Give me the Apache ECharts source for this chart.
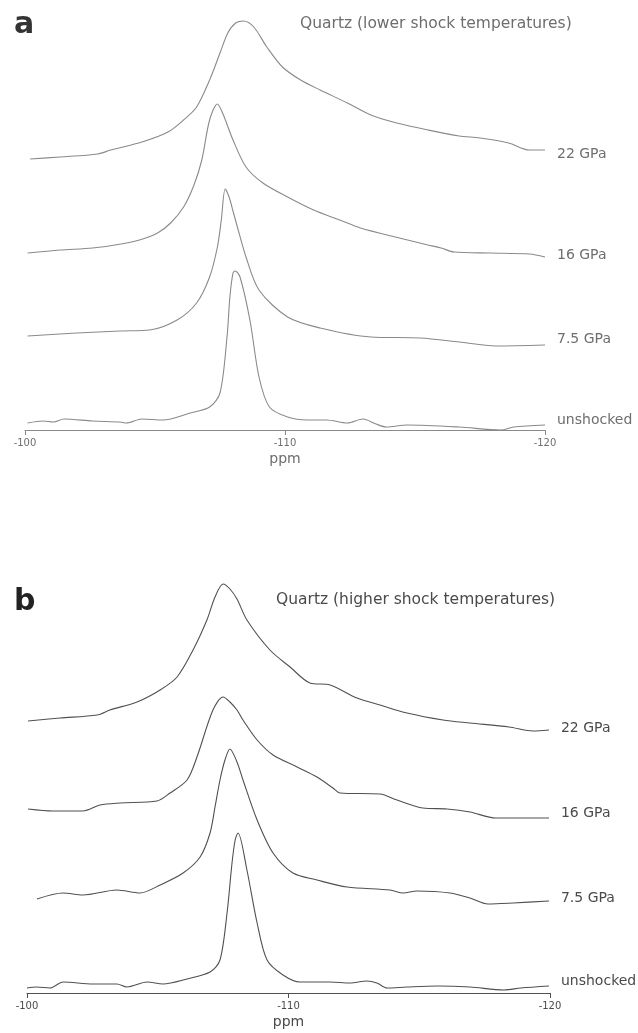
<!DOCTYPE html>
<html>
<head>
<meta charset="utf-8">
<script src="https://cdn.jsdelivr.net/npm/echarts@6/dist/echarts.min.js"></script>
<style>
html,body{margin:0;padding:0;background:#fff;}
#chart{width:638px;height:1033px;}
</style>
</head>
<body>
<div id="chart"></div>
<script>
// ---- DATA (ppm, relative intensity as stacked in the figure) ----
var seriesNames = ["22 GPa", "16 GPa", "7.5 GPa", "unshocked"];
var axisTicks = [-100, -110, -120];

// Panel a: lower shock temperatures
var a22_ppm = [-100.2,-101.35,-102.8,-103.3,-104.5,-105.5,-106.1,-106.6,-107.1,-107.5,-107.8,-108.1,-108.4,-108.8,-109.3,-109.9,-110.6,-111.35,-112.4,-113.3,-114.3,-115.5,-116.7,-117.5,-118.6,-119.4,-120];
var a22_val = [271,273,276,280,288,298,310,323,350,377,397,407,409,403,383,363,350,340,327,315,307,300,294,292,287,280,280];

var a16_ppm = [-100.1,-101.35,-102.6,-103.7,-104.4,-105.1,-105.6,-106.1,-106.5,-106.8,-107.1,-107.4,-107.6,-108.0,-108.5,-109.15,-110.1,-111.1,-112.1,-112.9,-114.4,-115.5,-116.0,-116.5,-117.9,-119.4,-120];
var a16_val = [177,180,182,186,190,197,207,223,245,270,310,326,317,290,263,247,233,220,210,202,192,185,182,178,177,176,173];

var a75_ppm = [-100.1,-102.0,-103.65,-104.8,-105.85,-106.6,-107.1,-107.4,-107.55,-107.7,-107.85,-108.0,-108.2,-108.5,-109.0,-110.1,-111.35,-113.3,-115.2,-116.7,-118.1,-120];
var a75_val = [94,97,99,100,110,127,153,183,210,241,233,219,200,173,140,113,102,93,92,88,84,85];

var a0_ppm = [-100.1,-100.7,-101.1,-101.5,-102.6,-103.65,-103.9,-104.5,-105.3,-106.35,-107.1,-107.5,-107.77,-107.88,-108.0,-108.08,-108.27,-108.65,-109.0,-109.4,-110.1,-110.85,-111.6,-112.4,-113.0,-113.5,-113.9,-114.7,-116.7,-118.3,-118.8,-120];
var a0_val = [7,9,8,11,9,8,7,11,10,17,23,37,93,133,157,159,153,110,53,23,13,10,10,7,11,6,3,5,3,0,3,5];

// Panel b: higher shock temperatures
var b22_ppm = [-100.04,-101.26,-102.68,-103.17,-104.21,-105.09,-105.74,-106.35,-106.88,-107.19,-107.5,-107.76,-108.03,-108.41,-109.29,-110.06,-110.82,-111.59,-112.62,-113.5,-114.53,-115.91,-116.94,-118.43,-119.35,-119.96];
var b22_val = [272,275,278,283,291,303,316,343,373,396,409,404,394,373,343,326,310,308,295,288,280,273,270,266,262,263];

var b16_ppm = [-100.04,-100.99,-102.14,-102.79,-103.56,-104.97,-105.47,-106.12,-106.5,-107.11,-107.5,-107.76,-108.03,-108.26,-108.8,-109.41,-110.33,-111.09,-111.7,-111.97,-113.5,-114.15,-115.14,-116.06,-116.94,-117.93,-119.96];
var b16_val = [184,182,182,188,190,192,200,213,236,283,296,291,283,273,253,238,226,216,205,200,199,193,185,184,181,175,175];

var b75_ppm = [-100.38,-101.38,-102.14,-103.44,-104.32,-105.09,-105.97,-106.62,-107.0,-107.19,-107.38,-107.57,-107.76,-108.03,-108.26,-108.8,-109.41,-110.17,-111.09,-112.24,-113.88,-114.38,-114.91,-116.18,-116.94,-117.63,-118.59,-119.96];
var b75_val = [94,100,98,103,100,108,120,136,160,186,213,233,244,231,213,173,140,120,113,106,103,100,102,100,95,89,90,92];

var b0_ppm = [-100.0,-100.38,-100.88,-101.38,-102.52,-103.44,-103.82,-104.59,-105.2,-106.12,-107.0,-107.38,-107.65,-107.84,-107.96,-108.07,-108.41,-108.8,-109.18,-109.79,-110.44,-111.59,-112.35,-113.0,-113.38,-113.77,-114.53,-115.68,-116.94,-118.24,-118.89,-119.96];
var b0_val = [5,6,5,11,9,9,6,11,9,14,21,33,80,130,153,160,123,70,33,18,11,11,10,12,10,5,6,7,6,3,5,7];

// ---- BUILD ----
function pairs(x, y) { return x.map(function (v, i) { return [v, y[i]]; }); }

var panelA = [pairs(a22_ppm, a22_val), pairs(a16_ppm, a16_val), pairs(a75_ppm, a75_val), pairs(a0_ppm, a0_val)];
var panelB = [pairs(b22_ppm, b22_val), pairs(b16_ppm, b16_val), pairs(b75_ppm, b75_val), pairs(b0_ppm, b0_val)];

var FONT = "DejaVu Sans";
var colA = "#8a8a8a", txtA = "#6e6e6e";
var colB = "#505050", txtB = "#4a4a4a";

var offA = [[0, 4], [0, -2], [0, -6], [0, -5]];
var offB = [[0, -2], [0, -5], [0, -3], [0, -5]];

function xAxisDef(gi, col, txt) {
  return {
    gridIndex: gi, type: 'value', min: -120, max: -100, interval: 10, inverse: true,
    axisLine: { show: true, lineStyle: { color: col, width: 1 } },
    axisTick: { show: true, length: 5, lineStyle: { color: col } },
    splitLine: { show: false },
    axisLabel: { color: txt, fontSize: 10, fontFamily: FONT, margin: 8,
      formatter: function (v) { return axisTicks.indexOf(v) >= 0 ? String(v) : ''; } },
    name: 'ppm', nameLocation: 'middle', nameGap: 22,
    nameTextStyle: { color: txt, fontSize: 14, fontFamily: FONT }
  };
}
function yAxisDef(gi) {
  return { gridIndex: gi, type: 'value', min: 0, max: 420, show: false };
}
function mkSeries(data, gi, col, txt, offs) {
  return data.map(function (d, i) {
    return {
      name: seriesNames[i], type: 'line', xAxisIndex: gi, yAxisIndex: gi,
      data: d, showSymbol: false, symbol: 'none', smooth: 0.3,
      lineStyle: { color: col, width: 1.1 },
      endLabel: { show: true, formatter: '{a}', color: txt, fontSize: 14,
        fontFamily: FONT, align: 'left', verticalAlign: 'middle', distance: -12, offset: offs[i] },
      silent: true
    };
  });
}

var chart = echarts.init(document.getElementById('chart'), null, { renderer: 'canvas' });
chart.setOption({
  animation: false,
  backgroundColor: '#ffffff',
  title: [
    { text: 'a', left: 9, top: 5, textStyle: { fontSize: 30, fontWeight: 'bold', color: '#333', fontFamily: FONT } },
    { text: 'Quartz (lower shock temperatures)', left: 295, top: 11, textStyle: { fontSize: 15.5, fontWeight: 'normal', color: txtA, fontFamily: FONT } },
    { text: 'b', left: 9, top: 582, textStyle: { fontSize: 30, fontWeight: 'bold', color: '#222', fontFamily: FONT } },
    { text: 'Quartz (higher shock temperatures)', left: 271, top: 587, textStyle: { fontSize: 15.5, fontWeight: 'normal', color: txtB, fontFamily: FONT } }
  ],
  grid: [
    { left: 25, right: 93, top: 10, height: 420 },
    { left: 27, right: 88, top: 573, height: 420 }
  ],
  xAxis: [xAxisDef(0, colA, txtA), xAxisDef(1, colB, txtB)],
  yAxis: [yAxisDef(0), yAxisDef(1)],
  series: mkSeries(panelA, 0, colA, txtA, offA).concat(mkSeries(panelB, 1, colB, txtB, offB))
});
</script>
</body>
</html>
